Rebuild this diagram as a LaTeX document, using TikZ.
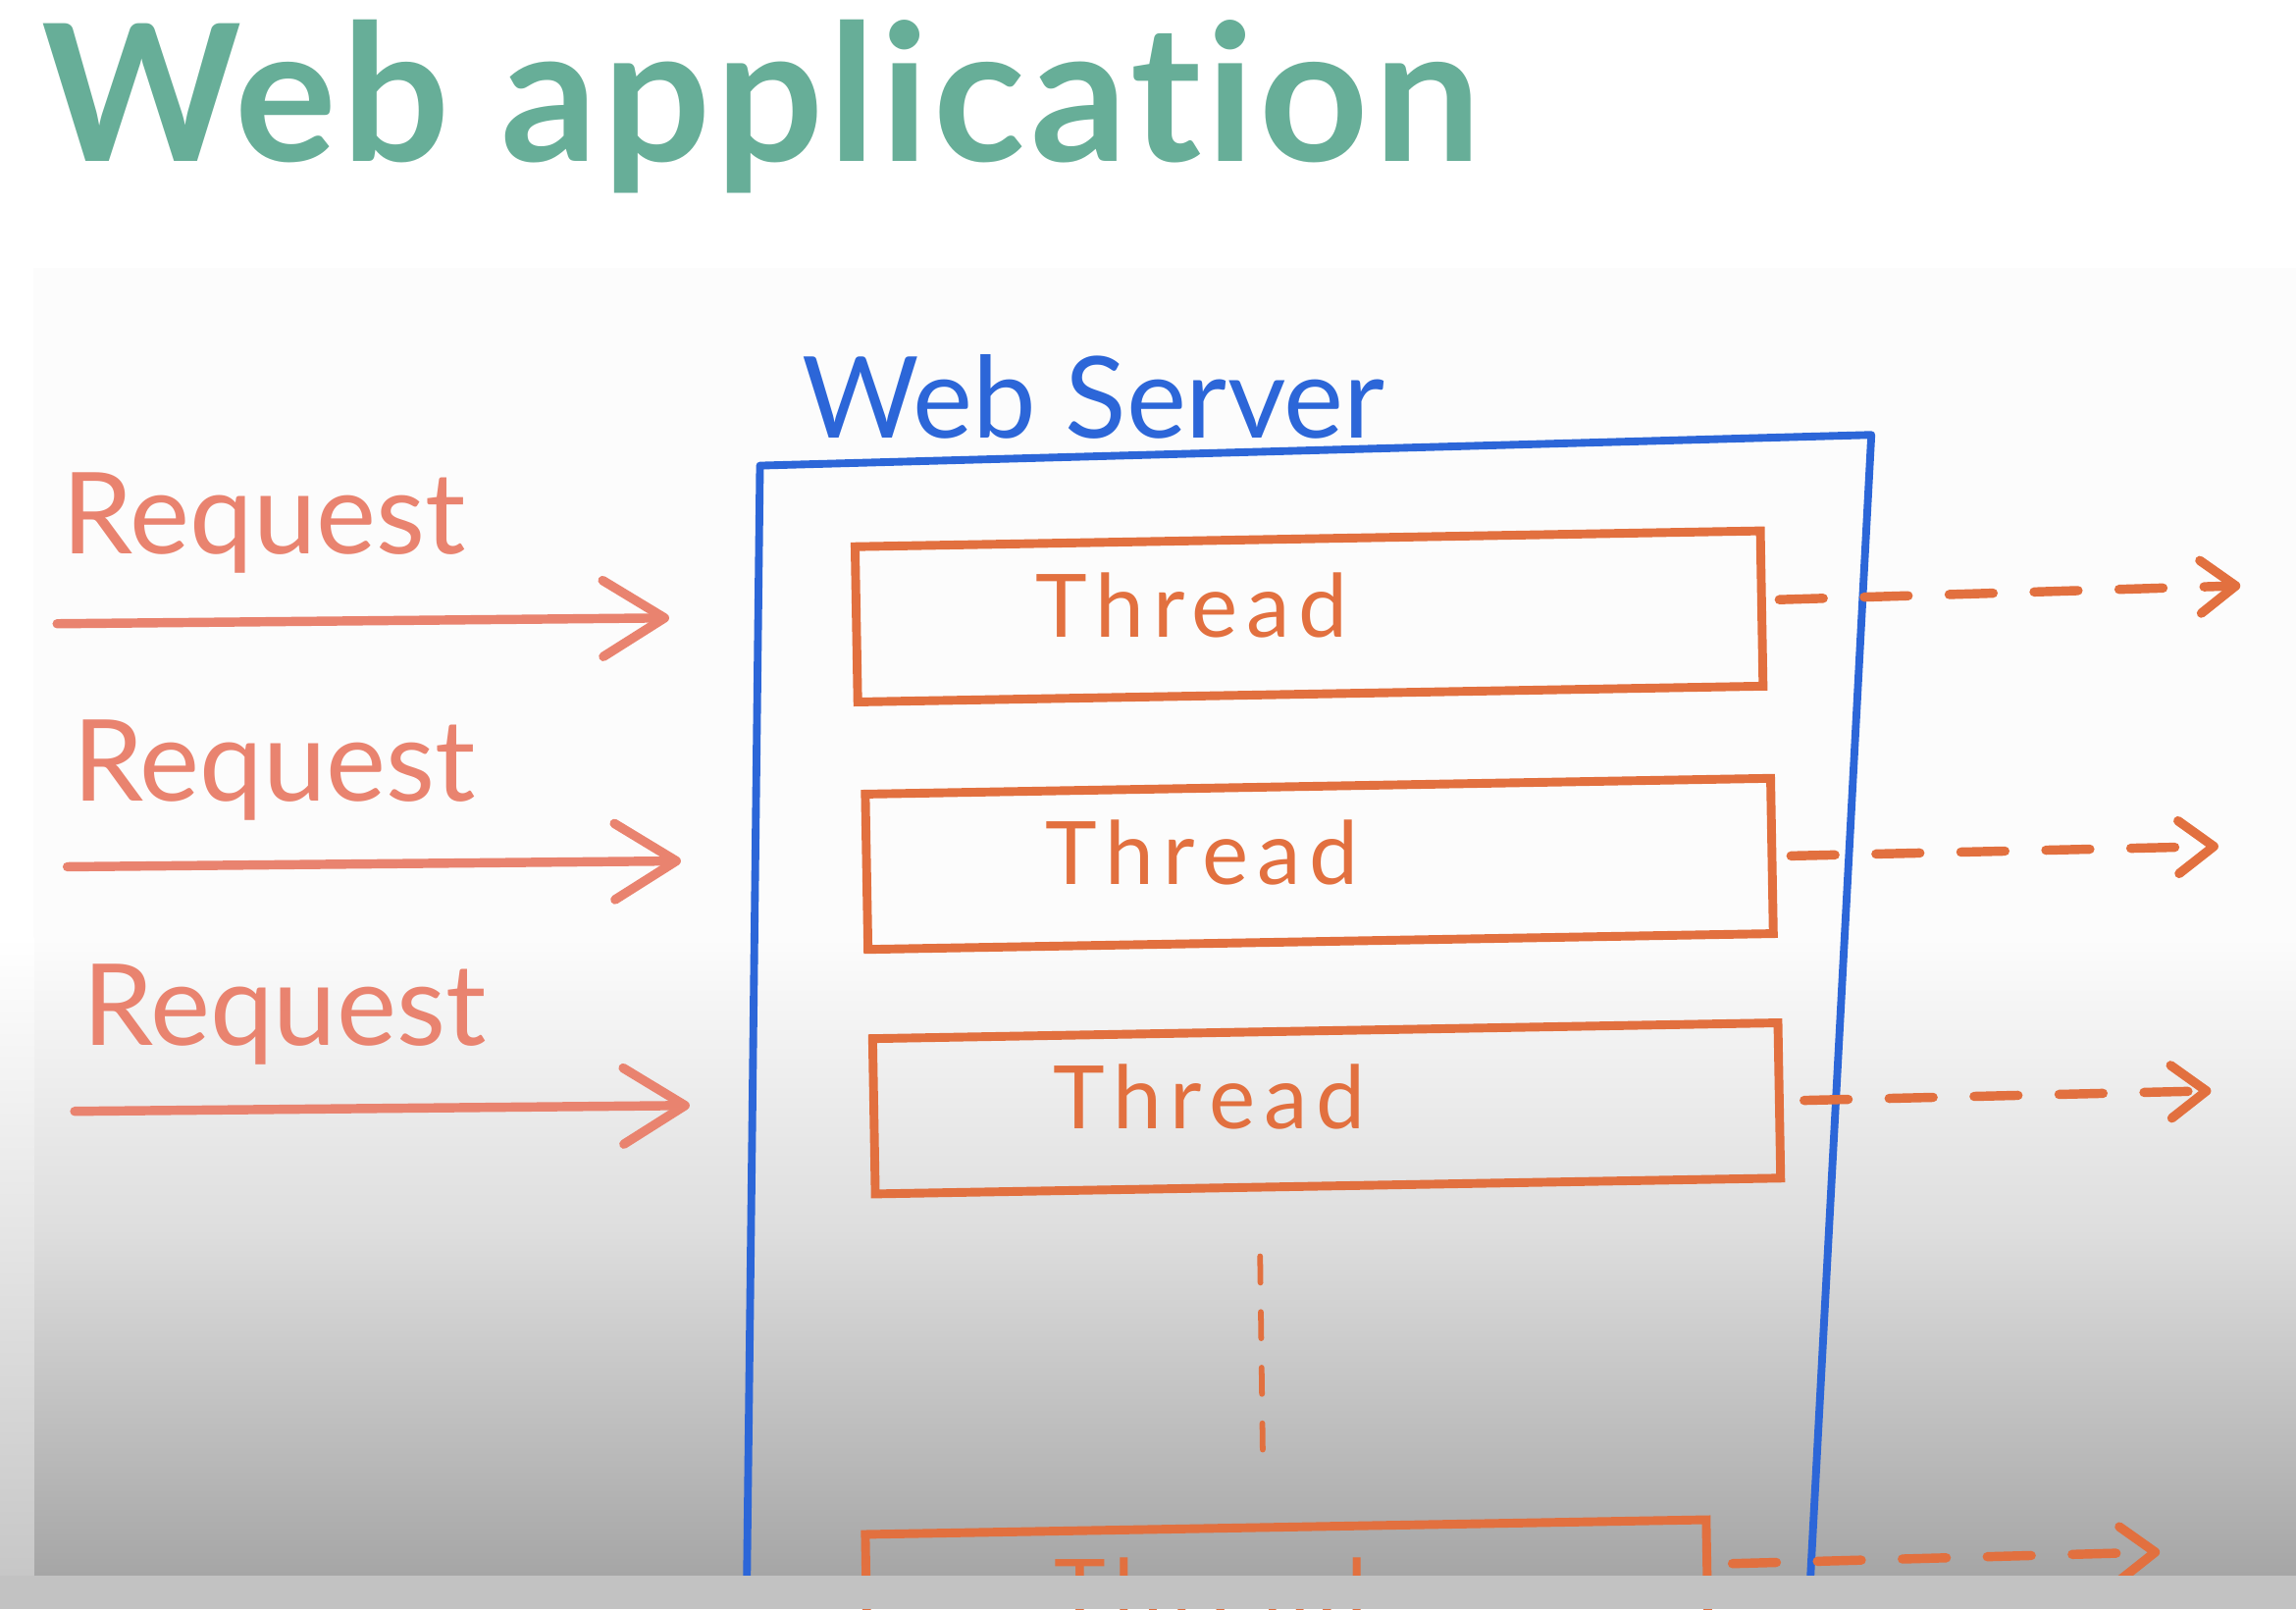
\documentclass[tikz,border=0pt]{standalone}
\usepackage{fontspec}
\setmainfont{Lato}[Ligatures=NoCommon]
\newfontfamily\titlefont{Lato}[Ligatures=NoCommon, LetterSpace=2.5]
\newfontfamily\threadfont{Lato}[LetterSpace=10]
\usetikzlibrary{arrows.meta,positioning,calc}

\definecolor{titlegreen}{HTML}{67AE98}
\definecolor{reqsalmon}{HTML}{E9836F}
\definecolor{threadorange}{HTML}{E2703F}
\definecolor{serverblue}{HTML}{2C66D8}
\definecolor{boardwhite}{HTML}{FCFCFC}

\begin{document}
\begin{tikzpicture}[
    x=0.01cm, y=-0.01cm,
    titletxt/.style={anchor=base west, inner sep=0pt, text=titlegreen, font=\titlefont\fontsize{37}{44}\selectfont\bfseries},
    reqlbl/.style={anchor=base west, inner sep=0pt, text=reqsalmon, font=\fontsize{22}{26}\selectfont},
    srvlbl/.style={anchor=base west, inner sep=0pt, text=serverblue, font=\fontsize{22}{26}\selectfont},
    server/.style={draw=serverblue, line width=1.5pt, line join=round, line cap=round},
    threadbox/.style={draw=threadorange, line width=1.7pt, minimum width=6.18cm, minimum height=1.06cm, inner sep=0pt, rotate=1},
    threadlbl/.style={anchor=base, inner sep=0pt, text=threadorange, font=\threadfont\fontsize{17}{20}\selectfont},
    reqarrow/.style={draw=reqsalmon, line width=1.8pt, line cap=round, -{Straight Barb[length=0.42cm, width=0.52cm, round]}},
    outarrow/.style={draw=threadorange, line width=1.8pt, line cap=round, dash pattern=on 0.3cm off 0.28cm, -{Straight Barb[length=0.24cm, width=0.36cm, round]}},
    more/.style={draw=threadorange, line width=1.1pt, line cap=round, dash pattern=on 0.18cm off 0.2cm}
    ]
    % Background
    \useasboundingbox (0,0) rectangle (1568,1099);
    \fill[white] (0,0) rectangle (1568,1099);
    \fill[boardwhite] (23,183) rectangle (1568,640);
    \shade[top color=boardwhite, bottom color=black!13] (23,640) rectangle (1568,840);
    \shade[top color=black!13, bottom color=black!35] (23,840) rectangle (1568,1076);
    \shade[top color=white, bottom color=black!22] (0,640) rectangle (23,1076);

    % Title
    \node[titletxt] (title) at (28,110) {Web application};

    % Web server
    \draw[server] (510,1085) -- (519,318) -- (1278,297) -- (1236,1085);
    \node[srvlbl] (srv) at (547,299) {Web Server};

    % Threads
    \node[threadbox] (t1) at (894,421) {};
    \node[threadbox] (t2) at (901,590) {};
    \node[threadbox] (t3) at (906,757) {};
    \node[threadbox, minimum width=5.74cm] (t4) at (879,1096) {};
    \node[threadlbl] (t1lbl) at ([xshift=-0.8cm,yshift=-0.14cm]t1.center) {Thread};
    \node[threadlbl] (t2lbl) at ([xshift=-0.8cm,yshift=-0.14cm]t2.center) {Thread};
    \node[threadlbl] (t3lbl) at ([xshift=-0.8cm,yshift=-0.14cm]t3.center) {Thread};
    \node[threadlbl] (t4lbl) at ([xshift=-0.52cm,yshift=-0.12cm]t4.center) {Thread};

    % Requests
    \node[reqlbl] (rq1) at (42,378) {Request};
    \node[reqlbl] (rq2) at (49,547) {Request};
    \node[reqlbl] (rq3) at (56,714) {Request};
    \coordinate (in1) at (39,426);
    \coordinate (in1e) at (457,422);
    \coordinate (in2) at (46,592);
    \coordinate (in2e) at (465,588);
    \coordinate (in3) at (51,759);
    \coordinate (in3e) at (471,755);
    \draw[reqarrow] (in1) -- (in1e);
    \draw[reqarrow] (in2) -- (in2e);
    \draw[reqarrow] (in3) -- (in3e);

    % Outgoing
    \coordinate (out1) at (1530,400);
    \coordinate (out2) at (1515,578);
    \coordinate (out3) at (1510,745);
    \coordinate (out4) at (1475,1060);
    \draw[outarrow] ([xshift=0.09cm,yshift=0.06cm]t1.east) -- (out1);
    \draw[outarrow] ([xshift=0.1cm]t2.east) -- (out2);
    \draw[outarrow] ([xshift=0.14cm]t3.east) -- (out3);
    \draw[outarrow] ([xshift=0.14cm,yshift=0.23cm]t4.east) -- (out4);

    % More threads
    \draw[more, shorten <=0.45cm, shorten >=0.36cm] ([xshift=-0.47cm]t3.south) -- ([xshift=-0.15cm]t4.north);

    % Bottom bar
    \fill[black!24] (0,1076) rectangle (1568,1099);
\end{tikzpicture}
\end{document}
